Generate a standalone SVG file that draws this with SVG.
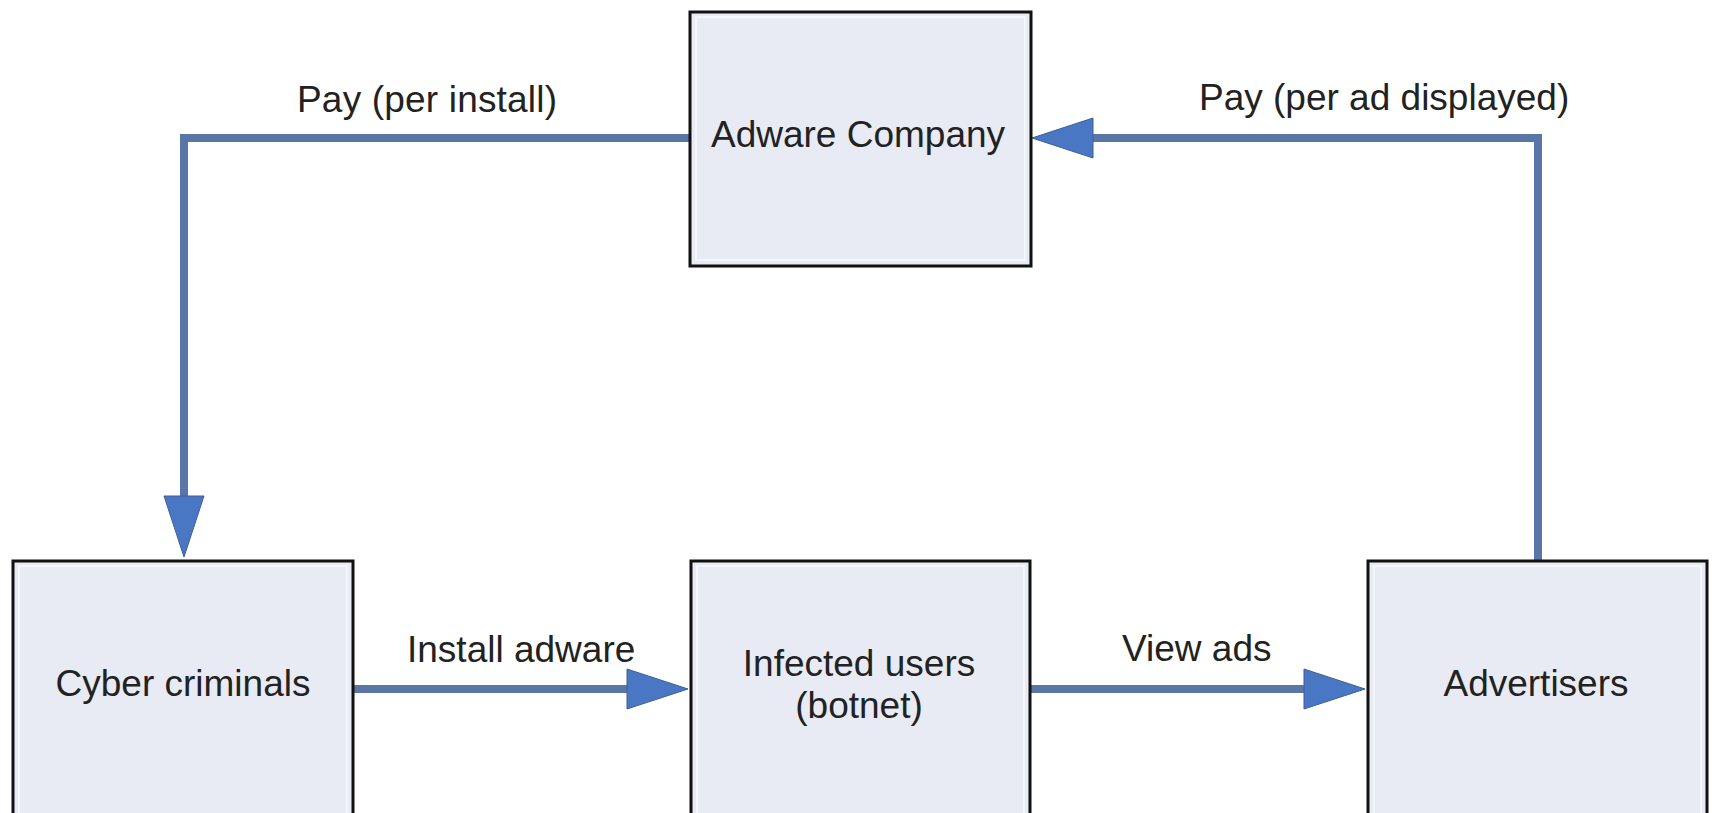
<svg xmlns="http://www.w3.org/2000/svg" width="1712" height="813" viewBox="0 0 1712 813">
  <style>
    .box { fill: #e8ebf4; stroke: #111; stroke-width: 3; }
    .inner { fill: none; stroke: #f4f6fb; stroke-width: 2; }
    .lbl { font-family: "Liberation Sans", Arial, sans-serif; font-size: 37px; fill: #222; }
    .mid { text-anchor: middle; }
    .conn { fill: none; stroke: #5a76a6; stroke-width: 8; stroke-linejoin: miter; }
  </style>
  <defs>
    <marker id="arrow" markerUnits="userSpaceOnUse" markerWidth="62" markerHeight="42" refX="0" refY="20" orient="auto" overflow="visible">
      <path d="M0,0 L61,20 L0,40 Z" fill="#4a77c4" stroke="#3f5f96" stroke-width="1"/>
    </marker>
  </defs>
  <rect width="1712" height="813" fill="#ffffff"/>

  <g id="connectors">
    <path class="conn" d="M690,138 H184 V496" marker-end="url(#arrow)"/>
    <path class="conn" d="M1538,561 V138 H1093" marker-end="url(#arrow)"/>
    <path class="conn" d="M353,689 H627" marker-end="url(#arrow)"/>
    <path class="conn" d="M1030,689 H1304" marker-end="url(#arrow)"/>
    <text class="lbl" x="297" y="112" textLength="260">Pay (per install)</text>
    <text class="lbl" x="1199" y="110">Pay (per ad displayed)</text>
    <text class="lbl" x="407" y="662">Install adware</text>
    <text class="lbl" x="1122" y="661">View ads</text>
  </g>

  <g id="adware-company">
    <rect class="box" x="690" y="12" width="341" height="254"/>
    <rect class="inner" x="696" y="17" width="329" height="243"/>
    <text class="lbl mid" x="858" y="147">Adware Company</text>
  </g>

  <g id="cyber-criminals">
    <rect class="box" x="13" y="561" width="340" height="270"/>
    <rect class="inner" x="19" y="566" width="328" height="260"/>
    <text class="lbl mid" x="183" y="696">Cyber criminals</text>
  </g>

  <g id="infected-users">
    <rect class="box" x="691" y="561" width="339" height="270"/>
    <rect class="inner" x="697" y="566" width="327" height="260"/>
    <text class="lbl mid" x="859" y="676">Infected users</text>
    <text class="lbl mid" x="859" y="718">(botnet)</text>
  </g>

  <g id="advertisers">
    <rect class="box" x="1368" y="561" width="339" height="270"/>
    <rect class="inner" x="1374" y="566" width="327" height="260"/>
    <text class="lbl mid" x="1536" y="696">Advertisers</text>
  </g>
</svg>
